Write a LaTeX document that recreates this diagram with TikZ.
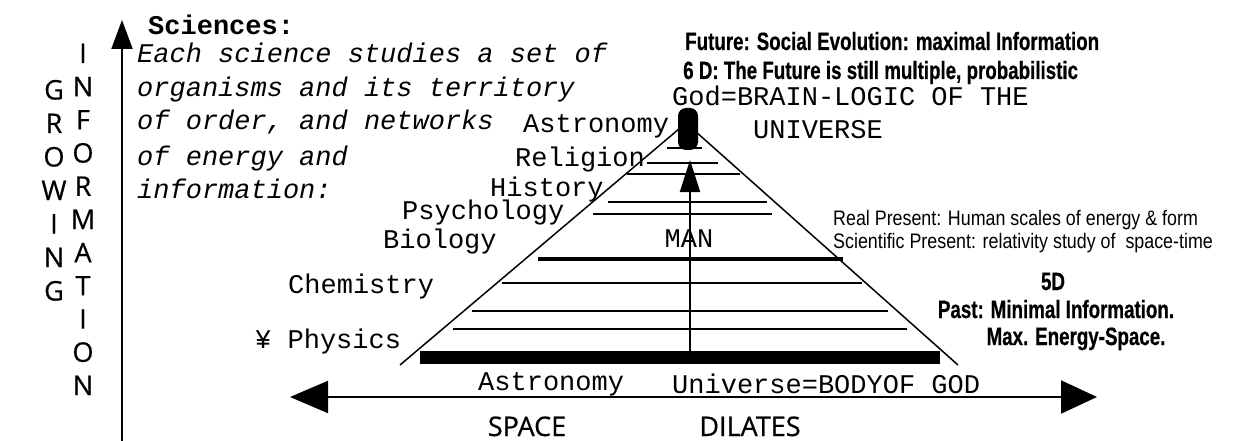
\documentclass[tikz,border=0pt]{standalone}
\usepackage{fontspec}
\usepackage{tikz}
\usetikzlibrary{arrows.meta}
\setmonofont{Liberation Mono}
\newfontfamily\axisfont[FakeBold=0.6]{Open Sans}
\newfontfamily\heavyfont[FakeStretch=0.75, FakeBold=0.5]{Liberation Sans Bold}
\newfontfamily\condfont[FakeStretch=0.85]{Liberation Sans}

\begin{document}
\begin{tikzpicture}[x=1pt, y=-1pt]
    \tikzstyle{mono}=[inner sep=0pt, anchor=base west, font=\fontsize{27}{30}\selectfont\ttfamily]
    \tikzstyle{monoit}=[mono, font=\fontsize{27}{30}\selectfont\ttfamily\itshape]
    \tikzstyle{axislabel}=[inner sep=0pt, anchor=base, font=\fontsize{27}{29}\selectfont\axisfont]
    \tikzstyle{dimbold}=[inner sep=0pt, anchor=base west, font=\fontsize{25}{27}\selectfont\heavyfont]
    \tikzstyle{dimsmall}=[inner sep=0pt, anchor=base west, font=\fontsize{21}{23}\selectfont\condfont]
    \tikzstyle{level}=[line width=1.5pt]

    \useasboundingbox (0,0) rectangle (1242,441);

    % axes
    \coordinate (infobase) at (122,441);
    \coordinate (infotop) at (122,20);
    \draw[line width=2pt, -{Triangle[length=29pt,width=21pt]}] (infobase) -- (infotop);
    \coordinate (spaceleft) at (290,397);
    \coordinate (spaceright) at (1097,397);
    \draw[line width=2pt, {Triangle[length=38pt,width=32pt]}-{Triangle[length=36pt,width=33pt]}] (spaceleft) -- (spaceright);

    \foreach \ch [count=\i] in {I,N,F,O,R,M,A,T,I,O,N}
        \node[axislabel] (info\i) at (83, 29.8+33.2*\i) {\ch};
    \foreach \ch [count=\i] in {G,R,O,W,I,N,G}
        \node[axislabel] (grow\i) at (54, 66+33.5*\i) {\ch};
    \node[axislabel] (space) at (527,436) {SPACE};
    \node[axislabel] (dilates) at (750,436) {DILATES};

    % pyramid
    \draw[line width=1.5pt] (400,365) -- (686,123) -- (958,365);
    \foreach \y/\xa/\xb in {148/667/702, 163/647/718, 174/627/740, 202/608/767, 214/593/772, 283/502/862, 311/472/888, 329/453/907}
        \draw[level] (\xa,\y) -- (\xb,\y);
    \draw[line width=4pt] (538,259) -- (843,259);
    \draw[line width=13pt] (420,357) -- (940,357);
    \fill[rounded corners=8pt] (678,108) rectangle (698,150);
    \coordinate (manbase) at (690,357);
    \coordinate (mantop) at (690,160);
    \draw[line width=2pt, -{Triangle[length=32pt,width=20pt]}] (manbase) -- (mantop);

    % sciences
    \node[mono, font=\fontsize{27}{30}\selectfont\ttfamily\bfseries] (sciences) at (148,35) {Sciences:};
    \node[monoit] (each) at (137,63) {Each science studies a set of};
    \node[monoit] (organisms) at (137,97) {organisms and its territory};
    \node[monoit] (order) at (137,130) {of order, and networks};
    \node[monoit] (energy) at (137,165) {of energy and};
    \node[monoit] (information) at (137,198) {information:};

    \node[mono] (astrotop) at (523,132) {Astronomy};
    \node[mono] (religion) at (515,167) {Religion};
    \node[mono] (history) at (490,196) {History};
    \node[mono] (psychology) at (402,219) {Psychology};
    \node[mono] (biology) at (383,248) {Biology};
    \node[mono] (chemistry) at (288,293) {Chemistry};
    \node[mono] (physics) at (255,348) {¥ Physics};
    \node[mono, anchor=base] (man) at (689,247) {MAN};
    \node[mono] (god) at (672,106) {God=BRAIN-LOGIC OF THE};
    \node[mono] (universe) at (753,139) {UNIVERSE};
    \node[mono] (astrobottom) at (478,390) {Astronomy};
    \node[mono] (body) at (672,393) {Universe=BODYOF GOD};

    % dimensions
    \node[dimbold] (future) at (685,50) {Future: Social Evolution: maximal Information};
    \node[dimbold] (sixd) at (683,79) {6 D: The Future is still multiple, probabilistic};
    \node[dimsmall] (real) at (833,225) {Real Present: Human scales of energy \& form};
    \node[dimsmall] (scientific) at (833,248) {Scientific Present: relativity study of \ space-time};
    \node[dimbold, anchor=base] (fived) at (1053,290) {5D};
    \node[dimbold, anchor=base] (past) at (1056,318) {Past: Minimal Information.};
    \node[dimbold, anchor=base] (max) at (1076,345) {Max. Energy-Space.};
\end{tikzpicture}
\end{document}
